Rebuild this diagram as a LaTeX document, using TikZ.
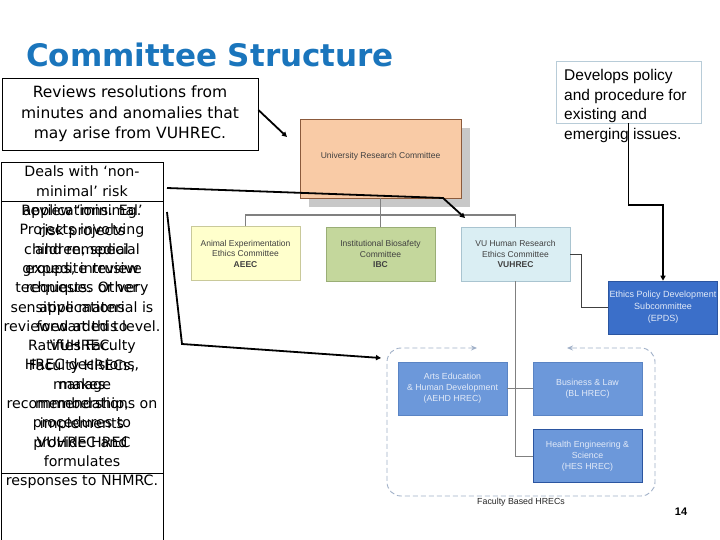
\documentclass[tikz,border=0pt]{standalone}
\usepackage{fontspec}
\setmainfont{DejaVu Sans}
\newfontfamily\arialf{Liberation Sans}
\usetikzlibrary{arrows.meta,shadows}
\definecolor{titleblue}{HTML}{1A75BC}
\definecolor{peach}{HTML}{F9CBA6}
\definecolor{peachborder}{HTML}{8B5A3C}
\definecolor{shadowgray}{HTML}{C8C8C8}
\definecolor{aeecfill}{HTML}{FFFFCC}
\definecolor{aeecborder}{HTML}{C9C99A}
\definecolor{ibcfill}{HTML}{C4D79C}
\definecolor{ibcborder}{HTML}{9AAE76}
\definecolor{vuhfill}{HTML}{DAEEF3}
\definecolor{vuhborder}{HTML}{A9C4D0}
\definecolor{epdsfill}{HTML}{3B6FC9}
\definecolor{epdsborder}{HTML}{2B55A0}
\definecolor{lighttext}{HTML}{E2EAF8}
\definecolor{facfill}{HTML}{6C98DA}
\definecolor{facborder}{HTML}{5A84C4}
\definecolor{orgtext}{HTML}{404040}
\definecolor{orggray}{HTML}{808080}
\definecolor{dashblue}{HTML}{A0B0C8}
\definecolor{devborder}{HTML}{B8CCD8}
\tikzset{
  orgbox/.style={draw, line width=0.6pt, inner sep=1pt, align=center, text=orgtext,
    font=\arialf\fontsize{8.5}{10.5}\selectfont, minimum width=109pt, minimum height=54pt},
  facbox/.style={draw=facborder, fill=facfill, line width=0.6pt, inner sep=1pt, align=center,
    text=lighttext, font=\arialf\fontsize{8.8}{11}\selectfont, minimum width=109pt, minimum height=53pt},
  annot/.style={line width=1.8pt, black, -{Triangle[length=5pt,width=5pt]}},
  orgline/.style={draw=orggray, line width=1pt},
  sidebox/.style={draw=black, line width=0.8pt, inner sep=0pt, minimum width=162pt},
  sidetext/.style={anchor=north, inner sep=0pt, align=center, font=\fontsize{14.2}{19.3}\selectfont}
}
\begin{document}
\begin{tikzpicture}[x=1pt,y=-1pt]
\useasboundingbox (0,0) rectangle (720,540);
\fill[white] (0,0) rectangle (720,540);

% title
\node[anchor=west, inner sep=0pt, text=titleblue, font=\fontsize{31}{36}\selectfont\bfseries] (title) at (26,55) {Committee Structure};

% reviews box
\node[draw=black, line width=0.8pt, minimum width=256pt, minimum height=72pt, inner sep=0pt, align=center,
  font=\fontsize{15.5}{20.5}\selectfont] (rev) at (130,114) {Reviews resolutions from\\minutes and anomalies that\\may arise from VUHREC.};

% develops box
\node[draw=devborder, line width=0.6pt, minimum width=145pt, minimum height=62pt, inner sep=0pt] (devbox) at (628.5,92) {};
\node[anchor=north west, inner sep=0pt, align=left, font=\arialf\fontsize{15.5}{19.4}\selectfont] (devtext) at (564,69.5)
  {Develops policy\\and procedure for\\existing and\\emerging issues.};

% left boxes
\node[sidebox, minimum height=379pt] (outerbox) at (82,351.5) {};
\node[sidebox, minimum height=272pt] (innerbox) at (82,337) {};
\node[sidetext] (textA) at (82,166) {Deals with ‘non-\\minimal’ risk\\applications. Eg.\\Projects involving\\children, special\\groups, intrusive\\techniques or very\\sensitive material is\\reviewed at this level.\\Ratifies Faculty\\HREC decisions,\\makes\\recommendations on\\procedures to\\VUHREC and\\formulates\\responses to NHMRC.};
\node[sidetext] (textB) at (82,204.8) {Review ‘minimal’\\risk projects\\and remedial\\expedite review\\requests. Other\\applications\\forwarded to\\VUHREC.\\Faculty HRECs,\\manage\\membership,\\implements\\provide HREC};

% org chart
\node[orgbox, draw=peachborder, fill=peach, minimum width=161pt, minimum height=79pt,
  general shadow={fill=shadowgray, shadow xshift=9pt, shadow yshift=-9pt}] (urc) at (380.5,158.5)
  {\raisebox{6pt}{University Research Committee}};
\node[orgbox, draw=aeecborder, fill=aeecfill] (aeec) at (245.5,253.5) {Animal Experimentation\\Ethics Committee\\\textbf{AEEC}};
\node[orgbox, draw=ibcborder, fill=ibcfill] (ibc) at (380.5,254) {Institutional Biosafety\\Committee\\\textbf{IBC}};
\node[orgbox, draw=vuhborder, fill=vuhfill] (vuhrec) at (515.5,254) {VU Human Research\\Ethics Committee\\\textbf{VUHREC}};
\node[orgbox, draw=epdsborder, fill=epdsfill, text=lighttext, minimum width=106pt, minimum height=53pt,
  font=\arialf\fontsize{9}{12}\selectfont] (epds) at (663,307.5) {Ethics Policy Development\\Subcommittee\\(EPDS)};

\node[facbox] (aehd) at (452.5,388.5) {Arts Education\\\& Human Development\\(AEHD HREC)};
\node[facbox] (bl) at (587.5,388.5) {\raisebox{5pt}{\begin{tabular}{@{}c@{}}Business \& Law\\(BL HREC)\end{tabular}}};
\node[facbox, draw=epdsborder] (hes) at (587.5,456) {Health Engineering \&\\Science\\(HES HREC)};

\draw[orgline] (urc.south) -- (ibc.north);
\draw[orgline, line width=1.5pt] (aeec.north) -- ++(0,-11) -| (vuhrec.north);
\draw[orgline, draw=black!75, line width=0.8pt] (vuhrec.east) -- ++(11,0) |- (epds.west);
\draw[orgline, line width=0.8pt] (vuhrec.south) |- (hes.west);
\draw[orgline, line width=0.8pt] (aehd.east) -- (bl.west);

% dashed faculty frame
\draw[draw=dashblue, line width=0.9pt, dash pattern=on 5pt off 3pt, rounded corners=14pt,
  {Stealth[length=6pt,width=5pt]}-{Stealth[length=6pt,width=5pt]}]
  (477,348) -- (387,348) -- (387,496) -- (655,496) -- (655,348) -- (567,348);
\node[font=\arialf\fontsize{8.8}{10}\selectfont, text=black!85, inner sep=0pt] (facl) at (521,502) {Faculty Based HRECs};

\node[font=\arialf\bfseries\fontsize{11}{12}\selectfont, inner sep=0pt] (pnum) at (681,512) {14};

% annotation arrows
\coordinate (a1) at (287,137);
\draw[annot] ([yshift=4pt]rev.east) -- (a1);
\coordinate (b1) at (167,188);
\coordinate (b1m) at (443,198);
\coordinate (b1e) at (465,218);
\draw[annot] (b1) -- (b1m) -- (b1e);
\coordinate (c1) at (167,212);
\coordinate (c1m) at (182,344);
\coordinate (c1e) at (381,358);
\draw[annot] (c1) -- (c1m) -- (c1e);
\draw[annot] (devbox.south) -- ++(0,82) -| (epds.north);
\end{tikzpicture}
\end{document}
